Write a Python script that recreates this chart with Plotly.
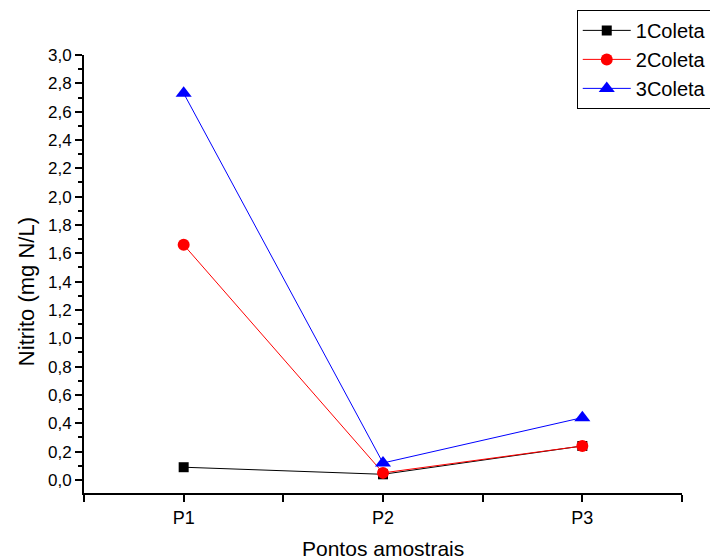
import plotly.graph_objects as go

categories = ["P1", "P2", "P3"]
cat_pos = [1, 2, 3]
coleta1 = [0.09, 0.04, 0.24]
coleta2 = [1.66, 0.05, 0.24]
coleta3 = [2.73, 0.12, 0.44]
series_names = ["1Coleta", "2Coleta", "3Coleta"]
y_ticks = [round(i * 0.2, 1) for i in range(16)]
y_minor = [round(0.1 + i * 0.2, 1) for i in range(15)]

fig = go.Figure()
styles = [
    ("black", "square", 10),
    ("#ff0000", "circle", 12),
    ("#0000ff", "triangle-up", 14),
]
for name, vals, (col, sym, sz) in zip(series_names, [coleta1, coleta2, coleta3], styles):
    fig.add_trace(go.Scatter(
        x=cat_pos, y=vals, name=name, mode="lines+markers",
        line=dict(color=col, width=1),
        marker=dict(color=col, symbol=sym, size=sz, line=dict(width=0)),
        cliponaxis=False,
    ))

fig.update_layout(
    width=710, height=560,
    margin=dict(l=84, r=28, t=55, b=67, autoexpand=False),
    plot_bgcolor="white", paper_bgcolor="white",
    separators=",.",
    font=dict(family="Liberation Sans, Arial", size=17, color="black"),
    showlegend=True,
    legend=dict(
        x=0.824, y=1.103, xanchor="left", yanchor="top",
        bordercolor="black", borderwidth=1, bgcolor="white",
        font=dict(size=20), tracegroupgap=0, itemwidth=48,
    ),
    annotations=[
        dict(text="Nitrito (mg N/L)", xref="paper", yref="paper",
             x=-0.095, y=0.459, xanchor="center", yanchor="middle",
             textangle=-90, showarrow=False, font=dict(size=22)),
        dict(text="Pontos amostrais", xref="paper", yref="paper",
             x=0.5, y=-0.1256, xanchor="center", yanchor="middle",
             showarrow=False, font=dict(size=21)),
    ],
)
fig.update_xaxes(
    range=[0.5, 3.5],
    tickmode="array",
    tickvals=[0.5, 1, 1.5, 2, 2.5, 3, 3.5],
    ticktext=["", categories[0], "", categories[1], "", categories[2], ""],
    ticks="outside", ticklen=7, tickwidth=2, tickcolor="black",
    showline=True, linecolor="black", linewidth=2,
    showgrid=False, zeroline=False,
    tickfont=dict(size=18),
)
fig.update_yaxes(
    range=[-0.092, 3.0],
    tickmode="array", tickvals=y_ticks, tickformat=".1f",
    ticks="outside", ticklen=7, tickwidth=2, tickcolor="black",
    minor=dict(tickmode="array", tickvals=y_minor,
               ticks="outside", ticklen=4, tickwidth=2, tickcolor="black"),
    showline=True, linecolor="black", linewidth=2,
    showgrid=False, zeroline=False,
    tickfont=dict(size=17),
)

fig.write_html("out.html")
